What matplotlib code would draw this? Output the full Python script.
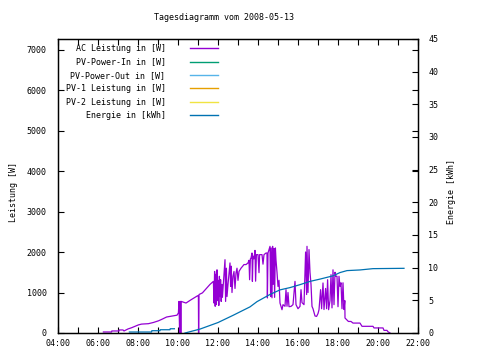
import numpy as np
import matplotlib
matplotlib.use("Agg")
import matplotlib.pyplot as plt

plt.rcParams['font.family'] = ['DejaVu Sans Mono']
plt.rcParams['font.size'] = 6

# AC Leistung [W] (time in hours)
ac_t = [6.27, 6.68, 6.69, 7.05, 7.06, 7.25, 7.30, 7.40, 7.50, 7.68, 7.85, 8.02, 8.18, 8.52,
        8.77, 9.02, 9.18, 9.43, 9.85, 9.95, 10.02, 10.05, 10.08, 10.10, 10.12, 10.14, 10.16,
        10.25, 10.40, 10.65, 10.98, 11.02, 11.03, 11.05, 11.22, 11.42, 11.60, 11.77, 11.80,
        11.83, 11.86, 11.89, 11.92, 11.95, 11.98, 12.01, 12.04, 12.07, 12.10, 12.13, 12.16,
        12.19, 12.22, 12.35, 12.38, 12.42, 12.45, 12.50, 12.60, 12.63, 12.66, 12.70, 12.75,
        12.80, 12.85, 12.90, 12.95, 13.00, 13.05, 13.15, 13.30, 13.40, 13.50, 13.55, 13.58,
        13.62, 13.65, 13.70, 13.72, 13.75, 13.80, 13.85, 13.88, 13.92, 14.00, 14.05, 14.08,
        14.20, 14.25, 14.30, 14.40, 14.45, 14.47, 14.50, 14.60, 14.63, 14.66, 14.70, 14.73,
        14.76, 14.80, 14.83, 14.87, 14.90, 14.95, 15.00, 15.05, 15.10, 15.20, 15.25, 15.35,
        15.40, 15.45, 15.50, 15.55, 15.65, 15.75, 15.85, 15.90, 16.00, 16.10, 16.15, 16.20,
        16.30, 16.38, 16.43, 16.45, 16.50, 16.55, 16.60, 16.65, 16.70, 16.75, 16.85, 16.93,
        17.00, 17.05, 17.13, 17.18, 17.25, 17.30, 17.38, 17.43, 17.48, 17.53, 17.60, 17.65,
        17.70, 17.75, 17.80, 17.85, 17.90, 17.95, 18.00, 18.05, 18.10, 18.15, 18.20, 18.25,
        18.30, 18.34, 18.35, 18.43, 18.52, 18.65, 18.75, 19.10, 19.20, 19.75, 19.80, 20.25,
        20.30, 20.45, 20.50, 20.60]
ac_w = [25, 25, 50, 50, 75, 75, 50, 75, 100, 130, 165, 200, 220, 230,
        260, 300, 335, 395, 430, 440, 495, 780, 0, 0, 780, 0, 780,
        765, 740, 820, 920, 920, 0, 950, 990, 1100, 1200, 1275, 740,
        1520, 660, 1450, 700, 1560, 800, 1300, 680, 1400, 900, 1316, 780,
        1200, 880, 1810, 780, 1600, 900, 1200, 1730, 1150, 1650, 1000, 1400,
        1520, 1100, 1480, 1600, 1300, 1520, 1600, 1690, 1690, 1730, 1795, 1316,
        1830, 1850, 1975, 1275, 1900, 1830, 2040, 1280, 1935, 1935, 1490, 1935,
        1935, 1700, 1935, 1975, 1975, 865, 1975, 2140, 900, 2100, 870, 2140,
        1200, 2080, 880, 2100, 1800, 1500, 1150, 1300, 740, 575, 700, 660,
        1070, 660, 1000, 650, 657, 700, 1275, 700, 600, 657, 1070, 750,
        700, 2000, 950, 2140, 1000, 2060, 1500, 1200, 657, 600, 420, 410,
        480, 575, 1070, 600, 1235, 580, 1100, 600, 1316, 575, 800, 1440,
        620, 1560, 700, 1500, 1400, 1400, 650, 1400, 1150, 1240, 600, 1240,
        580, 800, 370, 330, 285, 285, 245, 245, 165, 165, 125, 125,
        65, 65, 30, 0]

# Energie [kWh]
en_t = [7.57, 8.68, 8.69, 9.10, 9.11, 9.60, 9.61, 9.82, np.nan,
        10.35, 11.10, 12.00, 12.75, 13.60, 13.95, 14.60, 15.10, 15.60, 16.10,
        16.60, 17.10, 17.75, 18.10, 18.45, 19.10, 19.75, 21.30]
en_kwh = [0.15, 0.15, 0.35, 0.35, 0.5, 0.5, 0.65, 0.65, np.nan,
          0.0, 0.6, 1.6, 2.7, 4.0, 4.8, 5.9, 6.6, 6.95, 7.4,
          7.9, 8.25, 8.75, 9.25, 9.55, 9.65, 9.85, 9.9]

# not recorded on this day
pv_in = []
pv_out = []
pv1 = []
pv2 = []

labels = ['AC Leistung in [W]', 'PV-Power-In in [W]', 'PV-Power-Out in [W]',
          'PV-1 Leistung in [W]', 'PV-2 Leistung in [W]', 'Energie in [kWh]']
colors = ['#9400d3', '#009e73', '#56b4e9', '#e69f00', '#f0e442', '#0072b2']

fig = plt.figure(figsize=(4.8, 3.6), dpi=100)
ax = fig.add_axes([58/480, 27/360, 360/480, 294/360])
ax2 = ax.twinx()

h1, = ax.plot(ac_t, ac_w, color=colors[0], lw=0.9)
h2, = ax.plot(pv_in, pv_in, color=colors[1], lw=0.9)
h3, = ax.plot(pv_out, pv_out, color=colors[2], lw=0.9)
h4, = ax.plot(pv1, pv1, color=colors[3], lw=0.9)
h5, = ax.plot(pv2, pv2, color=colors[4], lw=0.9)
h6, = ax2.plot(en_t, en_kwh, color=colors[5], lw=0.9)

ax.set_xlim(4, 22)
ax.set_ylim(0, 7260)
ax2.set_ylim(0, 44.9)

xt = np.arange(4, 23, 2)
ax.set_xticks(xt)
ax.set_xticklabels(['%02d:00' % h for h in xt])
ax.set_xticks(np.arange(5, 22, 2), minor=True)
ax.set_yticks(np.arange(0, 7001, 1000))
ax2.set_yticks(np.arange(0, 46, 5))

ax.tick_params(which='both', direction='in', length=4, width=0.8, top=True, right=True,
               labelsize=6)
ax.tick_params(axis='y', pad=8)
ax.tick_params(axis='x', pad=4)
ax2.tick_params(direction='in', length=4, width=0.8, labelsize=6, pad=7.5)

for a in (ax, ax2):
    for s in a.spines.values():
        s.set_linewidth(0.9)

ax.set_ylabel('Leistung [W]', fontsize=6)
ax.yaxis.set_label_coords(-40.5/360, 141/294)
ax2.set_ylabel('Energie [kWh]', fontsize=6)
ax2.yaxis.set_label_coords(389.5/360, 141/294)
fig.text(224/480, 1 - 18/360, 'Tagesdiagramm vom 2008-05-13', ha='center', va='center',
         fontsize=6)

leg = ax2.legend([h1, h2, h3, h4, h5, h6], labels, markerfirst=False, frameon=False,
                 loc='upper right', bbox_to_anchor=(218/480, 1 - 44/360),
                 bbox_transform=fig.transFigure, borderpad=0, borderaxespad=0,
                 handlelength=3.4, handletextpad=2.9, labelspacing=0.53, fontsize=6)
for l in leg.get_lines():
    l.set_linewidth(1.0)

fig.savefig('out.png', dpi=100)
